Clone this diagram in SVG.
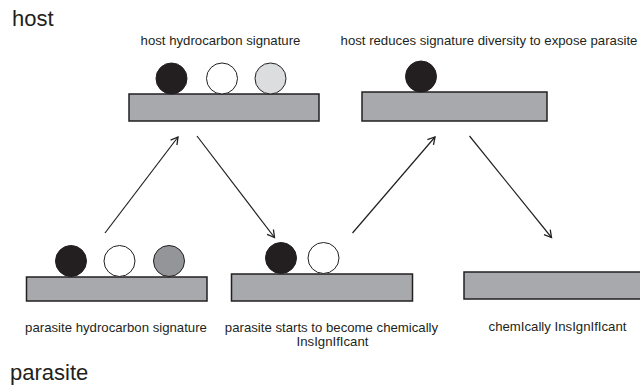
<svg xmlns="http://www.w3.org/2000/svg" width="640" height="387" viewBox="0 0 640 387">
<defs>
<marker id="ah" markerWidth="10" markerHeight="10" refX="8" refY="5" orient="auto" markerUnits="userSpaceOnUse">
<path d="M1,1 L8,5 L1,9" fill="none" stroke="#231f20" stroke-width="1.3"/>
</marker>
<style>
.box{fill:#a7a9ac;stroke:#231f20;stroke-width:1.5}
.blk{fill:#231f20;stroke:#231f20;stroke-width:1}
.wht{fill:#ffffff;stroke:#231f20;stroke-width:1}
.lgr{fill:#dcddde;stroke:#231f20;stroke-width:1}
.mgr{fill:#939598;stroke:#231f20;stroke-width:1}
.lbl{font-family:"Liberation Sans",Arial,sans-serif;font-size:13.2px;fill:#231f20;text-anchor:middle}
.big{font-family:"Liberation Sans",Arial,sans-serif;font-size:22px;fill:#231f20}
.arr{stroke:#231f20;stroke-width:1.2;fill:none;marker-end:url(#ah)}
</style>
</defs>
<rect width="640" height="387" fill="#ffffff"/>
<text class="big" x="12" y="26">host</text>
<text class="big" x="10" y="380">parasite</text>

<g id="host-signature">
<rect class="box" x="129" y="94" width="190" height="27"/>
<circle class="blk" cx="171.5" cy="78.5" r="15.5"/>
<circle class="wht" cx="222" cy="78.5" r="15.5"/>
<circle class="lgr" cx="270.5" cy="78.5" r="15.5"/>
<text class="lbl" x="220.5" y="45">host hydrocarbon signature</text>
</g>

<g id="host-reduces">
<rect class="box" x="362" y="92" width="185" height="29"/>
<circle class="blk" cx="421" cy="76.5" r="15.5"/>
<text class="lbl" x="489" y="45">host reduces signature diversity to expose parasite</text>
</g>

<g id="parasite-signature">
<rect class="box" x="26.5" y="277" width="180.5" height="24"/>
<circle class="blk" cx="71" cy="261" r="15.5"/>
<circle class="wht" cx="119.5" cy="261" r="15.5"/>
<circle class="mgr" cx="169" cy="261" r="15.5"/>
<text class="lbl" x="116" y="331.5">parasite hydrocarbon signature</text>
</g>

<g id="parasite-starts">
<rect class="box" x="231.5" y="274" width="181" height="27"/>
<circle class="blk" cx="281" cy="258" r="15.5"/>
<circle class="wht" cx="323.5" cy="258" r="15.5"/>
<text class="lbl" x="331.5" y="331.5">parasite starts to become chemically</text>
<text class="lbl" x="332.5" y="345.5">InsIgnIfIcant</text>
</g>

<g id="chemically-insignificant">
<rect class="box" x="464" y="272" width="180" height="27"/>
<text class="lbl" x="557.5" y="331">chemIcally InsIgnIfIcant</text>
</g>

<g id="connectors">
<line class="arr" x1="105" y1="233" x2="178" y2="137"/>
<line class="arr" x1="197" y1="136" x2="274.5" y2="237.5"/>
<line class="arr" x1="352.5" y1="233" x2="435" y2="137"/>
<line class="arr" x1="469.5" y1="136" x2="551.5" y2="237.5"/>
</g>
</svg>
